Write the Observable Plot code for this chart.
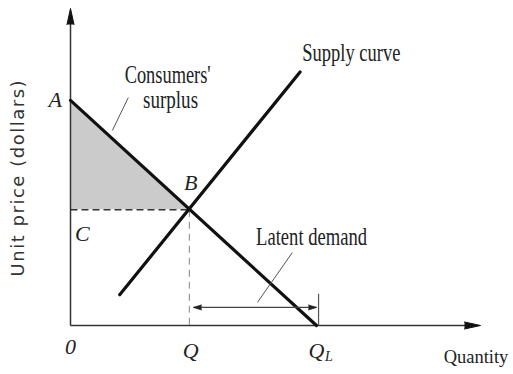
<!DOCTYPE html>
<html><head><meta charset="utf-8">
<script src="https://cdn.jsdelivr.net/npm/d3@7"></script>
<script src="https://cdn.jsdelivr.net/npm/@observablehq/plot@0.6"></script>
<style>body{margin:0;background:#fff}</style>
</head><body><div id="chart"></div>
<script>
// Demand line (A -> Q_L)
const demandQ = [0, 6.0];
const demandP = [7.1, 0];
// Supply line
const supplyQ = [1.2, 5.6];
const supplyP = [0.97, 8.0];
// Equilibrium B
const eqQ = 2.9;
const eqP = 3.65;
// Latent demand arrow
const latentQ = [3.0, 6.0];
const latentP = 0.57;
const latentTickQ = 6.05;
const latentTickTop = 1.0;
// Leader lines
const surplusLeaderQ = [1.02, 1.41];
const surplusLeaderP = [6.15, 7.19];
const latentLeaderQ = [4.56, 5.41];
const latentLeaderP = [0.73, 2.30];
// Axis extents
const axisMaxQ = 10;
const axisMaxP = 10;

// Text labels
const serifLabels = [
  {t: "Consumers'", q: 2.37, p: 7.89},
  {t: "surplus", q: 2.44, p: 7.10},
  {t: "Supply curve", q: 6.85, p: 8.61},
  {t: "Latent demand", q: 5.88, p: 2.78}
];
const xTitle = {t: "Quantity", q: 10.68, p: -1.01};
const pointLabels = [
  {t: "A", q: -0.37, p: 7.10},
  {t: "B", q: 2.93, p: 4.51},
  {t: "C", q: 0.29, p: 2.90},
  {t: "0", q: 0, p: -0.69},
  {t: "Q", q: 2.93, p: -0.79},
  {t: "Q", q: 6.0, p: -0.79}
];
const subLabels = [{t: "L", q: 6.3, p: -0.98}];
const yTitle = {t: "Unit price (dollars)", q: -1.27, p: 4.64};

const demand = demandQ.map((q, i) => ({q, p: demandP[i]}));
const supply = supplyQ.map((q, i) => ({q, p: supplyP[i]}));
const surplusArea = [
  {q: 0, p1: eqP, p2: demandP[0]},
  {q: eqQ, p1: eqP, p2: eqP}
];
const serif = "Liberation Serif, Times New Roman, serif";

const chart = Plot.plot({
  width: 513, height: 374,
  marginLeft: 70, marginRight: 33, marginTop: 8, marginBottom: 49,
  x: {domain: [0, 10], axis: null},
  y: {domain: [0, 10], axis: null},
  style: {background: "#fff"},
  marks: [
    Plot.areaY(surplusArea, {x: "q", y1: "p1", y2: "p2", fill: "#cbcbcb", curve: "linear"}),
    // dashed guides
    Plot.link([{}], {x1: 0, y1: eqP, x2: eqQ, y2: eqP, stroke: "#333", strokeWidth: 1.5, strokeDasharray: "7,4"}),
    Plot.link([{}], {x1: eqQ, y1: eqP, x2: eqQ, y2: 0, stroke: "#999", strokeWidth: 1.2, strokeDasharray: "7,5"}),
    // axes
    Plot.link([{}], {x1: 0, y1: 0, x2: 0, y2: axisMaxP - 0.3, stroke: "#333", strokeWidth: 1.5}),
    Plot.link([{}], {x1: 0, y1: 0, x2: axisMaxQ - 0.3, y2: 0, stroke: "#333", strokeWidth: 1.5}),
    Plot.vector([{}], {x: 0, y: axisMaxP, length: 16, r: 3.5, rotate: 0, shape: "spike", anchor: "end", fill: "#111", stroke: "#111", strokeWidth: 1}),
    Plot.vector([{}], {x: axisMaxQ, y: 0, length: 16, r: 3.5, rotate: 90, shape: "spike", anchor: "end", fill: "#111", stroke: "#111", strokeWidth: 1}),
    // curves
    Plot.line(demand, {x: "q", y: "p", stroke: "#111", strokeWidth: 3.2}),
    Plot.line(supply, {x: "q", y: "p", stroke: "#111", strokeWidth: 3.2}),
    // latent demand arrow
    Plot.link([{}], {x1: latentQ[0], y1: latentP, x2: latentQ[1], y2: latentP, stroke: "#444", strokeWidth: 1.3}),
    Plot.vector([{}], {x: latentQ[0], y: latentP, length: 8, r: 2.5, rotate: -90, shape: "spike", anchor: "end", fill: "#222", stroke: "#222", strokeWidth: 0.8}),
    Plot.vector([{}], {x: latentQ[1], y: latentP, length: 8, r: 2.5, rotate: 90, shape: "spike", anchor: "end", fill: "#222", stroke: "#222", strokeWidth: 0.8}),
    Plot.link([{}], {x1: latentTickQ, y1: 0, x2: latentTickQ, y2: latentTickTop, stroke: "#555", strokeWidth: 1.2}),
    // leader lines
    Plot.link([{}], {x1: surplusLeaderQ[0], y1: surplusLeaderP[0], x2: surplusLeaderQ[1], y2: surplusLeaderP[1], stroke: "#555", strokeWidth: 1}),
    Plot.link([{}], {x1: latentLeaderQ[0], y1: latentLeaderP[0], x2: latentLeaderQ[1], y2: latentLeaderP[1], stroke: "#555", strokeWidth: 1}),
    // texts
    Plot.text(serifLabels, {x: "q", y: "p", text: "t", fontFamily: serif, fontSize: 25, fill: "#222"}),
    Plot.text([xTitle], {x: "q", y: "p", text: "t", textAnchor: "end", fontFamily: serif, fontSize: 18.5, fill: "#222"}),
    Plot.text(pointLabels, {x: "q", y: "p", text: "t", fontFamily: serif, fontStyle: "italic", fontSize: 22, fill: "#222"}),
    Plot.text(subLabels, {x: "q", y: "p", text: "t", fontFamily: serif, fontStyle: "italic", fontSize: 14, fill: "#222"}),
    Plot.text([yTitle], {x: "q", y: "p", text: "t", rotate: -90, fontFamily: "DejaVu Sans, sans-serif", fontSize: 18, fill: "#333"})
  ]
});
// The reference typeface is tall and condensed: squeeze the word labels to their reference widths.
const condensedWidth = {"Consumers'": 86, "surplus": 55, "Supply curve": 98, "Latent demand": 111};
d3.select(chart).selectAll("text").each(function() {
  const w = condensedWidth[this.textContent];
  if (w) { this.setAttribute("textLength", w); this.setAttribute("lengthAdjust", "spacingAndGlyphs"); }
  if (this.textContent === yTitle.t) { this.setAttribute("textLength", 196); this.setAttribute("lengthAdjust", "spacing"); }
});
document.getElementById("chart").appendChild(chart);
</script>
</body></html>
